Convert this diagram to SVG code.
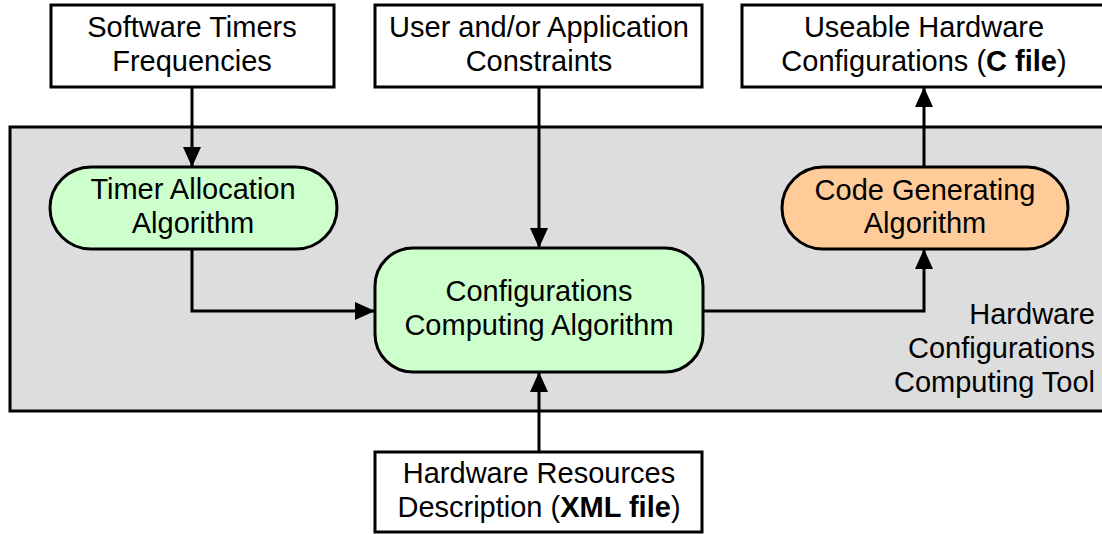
<svg xmlns="http://www.w3.org/2000/svg" width="1102" height="534" viewBox="0 0 1102 534">
<style>
text{font-family:"Liberation Sans",Arial,sans-serif;font-size:29px;fill:#000;text-anchor:middle}
.box{fill:#fff;stroke:#000;stroke-width:3}
.g{fill:#ccffcc;stroke:#000;stroke-width:3}
.o{fill:#ffcc99;stroke:#000;stroke-width:3}
.c{fill:none;stroke:#000;stroke-width:3}
.b{font-weight:bold}
</style>
<defs>
<marker id="ah" markerUnits="userSpaceOnUse" markerWidth="20" markerHeight="18" refX="20" refY="9" orient="auto" viewBox="0 0 20 18">
<path d="M0,0 L20,9 L0,18 Z" fill="#000"/>
</marker>
</defs>
<g id="tool">
<rect x="10" y="127" width="1100" height="284" fill="#dddddd" stroke="#000" stroke-width="3"/>
<text x="1095" y="324" style="text-anchor:end">Hardware</text>
<text x="1095" y="358" style="text-anchor:end">Configurations</text>
<text x="1095" y="392" style="text-anchor:end">Computing Tool</text>
</g>
<g id="swtimers">
<rect class="box" x="51" y="5" width="283" height="82"/>
<text x="192" y="37">Software Timers</text>
<text x="192" y="71">Frequencies</text>
</g>
<g id="constraints">
<rect class="box" x="375" y="5" width="327" height="82"/>
<text x="539" y="37">User and/or Application</text>
<text x="539" y="71">Constraints</text>
</g>
<g id="useable">
<rect class="box" x="742" y="5" width="380" height="82"/>
<text x="924" y="37">Useable Hardware</text>
<text x="924" y="71">Configurations (<tspan class="b">C file</tspan>)</text>
</g>
<g id="timeralloc">
<rect class="g" x="50" y="167" width="287" height="82" rx="41"/>
<text x="193" y="199">Timer Allocation</text>
<text x="193" y="233">Algorithm</text>
</g>
<g id="configcomp">
<rect class="g" x="375" y="248" width="328" height="124" rx="38"/>
<text x="539" y="301">Configurations</text>
<text x="539" y="335">Computing Algorithm</text>
</g>
<g id="codegen">
<rect class="o" x="782" y="167" width="286" height="82" rx="41"/>
<text x="925" y="200">Code Generating</text>
<text x="925" y="233">Algorithm</text>
</g>
<g id="hwres">
<rect class="box" x="375" y="452" width="327" height="80"/>
<text x="539" y="483">Hardware Resources</text>
<text x="539" y="517">Description (<tspan class="b">XML file</tspan>)</text>
</g>
<g id="connectors">
<path class="c" d="M192,87 V167" marker-end="url(#ah)"/>
<path class="c" d="M539,87 V248" marker-end="url(#ah)"/>
<path class="c" d="M192,249 V311 H375" marker-end="url(#ah)"/>
<path class="c" d="M703,311 H924 V249" marker-end="url(#ah)"/>
<path class="c" d="M924,167 V87" marker-end="url(#ah)"/>
<path class="c" d="M539,452 V372" marker-end="url(#ah)"/>
</g>
</svg>
